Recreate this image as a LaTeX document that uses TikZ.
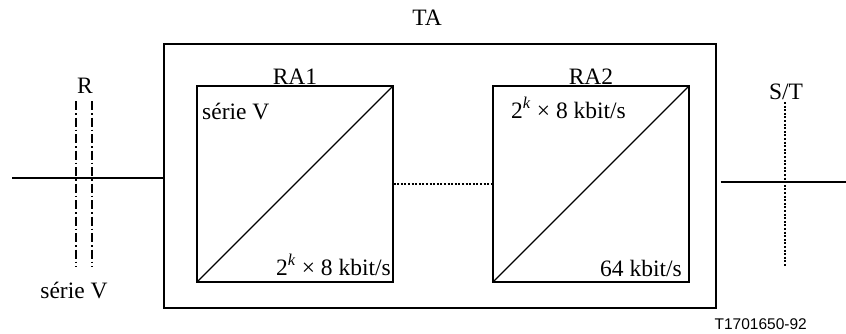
\documentclass[tikz,border=0pt]{standalone}
\usepackage{fontspec}
\setmainfont{Liberation Serif}
\newfontfamily\labelsans{Liberation Sans}
\begin{document}
\begin{tikzpicture}[x=1pt,y=-1pt,
  box/.style={draw, line width=1.1pt, rectangle, inner sep=0pt},
  lbl/.style={font=\fontsize{23.5}{26}\selectfont, inner sep=0pt},
  solidline/.style={line width=1.5pt},
  dotline/.style={line width=1.5pt, dash pattern=on 2pt off 1.6pt},
  dashdot/.style={line width=1.3pt, dash pattern=on 9pt off 3pt on 1.5pt off 3pt}]
\useasboundingbox (0,0) rectangle (846,333);
% TA box
\node[box, minimum width=552pt, minimum height=264pt] (ta) at (440,176) {};
\node[lbl, anchor=base] (talbl) at (427,25) {TA};
% RA1
\node[box, minimum width=196pt, minimum height=196pt] (ra1) at (295,184) {};
\draw[line width=1.2pt] (ra1.south west) -- (ra1.north east);
\node[lbl, anchor=base] (ra1lbl) at (ra1.north |- 0,84) {RA1};
\node[lbl, anchor=base west] (ra1in) at (202,119) {série V};
\node[lbl, anchor=base east] (ra1out) at (391,275) {2\textsuperscript{\textit{k}} × 8 kbit/s};
% RA2
\node[box, minimum width=196pt, minimum height=196pt] (ra2) at (591,184) {};
\draw[line width=1.2pt] (ra2.south west) -- (ra2.north east);
\node[lbl, anchor=base] (ra2lbl) at (ra2.north |- 0,84) {RA2};
\node[lbl, anchor=base west] (ra2in) at (511,118) {2\textsuperscript{\textit{k}} × 8 kbit/s};
\node[lbl, anchor=base east] (ra2out) at (682,276) {64 kbit/s};
% link between RA1 and RA2
\draw[dotline] (ra1.east) -- (ra2.west);
% left interface R
\coordinate (lend) at (12,178);
\draw[solidline] (lend) -- (lend -| ta.west);
\coordinate (ra) at (76,101);
\coordinate (rb) at (76,267);
\coordinate (rc) at (92,101);
\coordinate (rd) at (92,267);
\draw[dashdot] (ra) -- (rb);
\draw[dashdot] (rc) -- (rd);
\node[lbl, anchor=base] (rlbl) at (85,93) {R};
\node[lbl, anchor=base] (serlbl) at (74,298) {série V};
% right interface S/T
\coordinate (rend) at (846,182);
\coordinate (rstart) at ([xshift=4pt]rend -| ta.east);
\draw[solidline] (rstart) -- (rend);
\coordinate (sa) at (785,102);
\coordinate (sb) at (785,267);
\draw[dotline] (sa) -- (sb);
\node[lbl, anchor=base] (stlbl) at (786,99) {S/T};
% figure id
\node[font=\labelsans\fontsize{15.5}{17}\selectfont, anchor=base east, inner sep=0pt] (figid) at (807,329) {T1701650-92};
\end{tikzpicture}
\end{document}
